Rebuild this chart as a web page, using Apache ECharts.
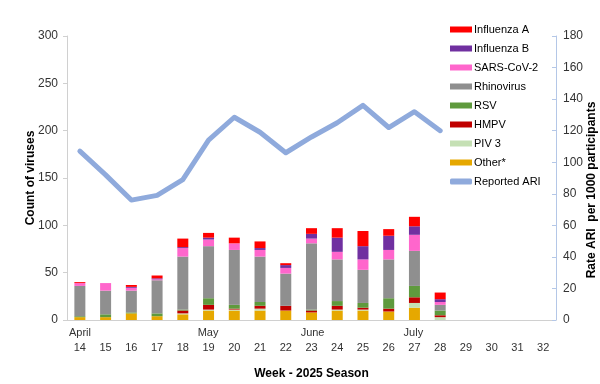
<!DOCTYPE html>
<html><head><meta charset="utf-8">
<script src="https://cdn.jsdelivr.net/npm/echarts@6/dist/echarts.min.js"></script>
<style>html,body{margin:0;padding:0;background:#fff}#c{width:600px;height:384px}</style>
</head><body><div id="c"></div>
<script>
const weeks = ['14','15','16','17','18','19','20','21','22','23','24','25','26','27','28','29','30','31','32'];
const monthBoundaries = ['April','','','','','May','','','','June','','','','July','','','','','',''];
const other  = [3, 3, 7, 4, 6, 10, 10, 10, 10, 8, 10, 10, 9, 13, 0];
const piv3   = [0, 0, 0, 0, 1, 1, 1, 2, 0, 0, 1, 1, 0, 5, 3];
const hmpv   = [0, 0, 0, 0, 3, 5, 1, 3, 5, 2, 4, 2, 3, 6, 2];
const rsv    = [1, 3, 1, 3, 1, 7, 4, 4, 0, 1, 5, 5, 11, 12, 5];
const rhino  = [32, 25, 23, 35, 56, 55, 58, 48, 34, 70, 44, 35, 41, 37, 6];
const sars   = [3, 8, 3, 1, 9, 7, 7, 7, 6, 5, 8, 11, 10, 17, 3];
const flub   = [0, 0, 1, 1, 1, 2, 0, 2, 3, 5, 15, 14, 15, 9, 3];
const flua   = [1, 0, 2, 3, 9, 5, 6, 7, 2, 6, 10, 16, 7, 10, 7];
const ari    = [107, 92, 76, 79, 89, 114, 128.5, 119, 106, 116, 125, 136, 122, 132, 120];
const leftTicks = [0, 50, 100, 150, 200, 250, 300];
const rightTicks = [0, 20, 40, 60, 80, 100, 120, 140, 160, 180];

const font = 'Liberation Sans, Arial, sans-serif';
const barSeries = [
  ['Other*', other, '#e6a800'],
  ['PIV 3', piv3, '#c5e0b4'],
  ['HMPV', hmpv, '#c00000'],
  ['RSV', rsv, '#5f9a3d'],
  ['Rhinovirus', rhino, '#8f8f8f'],
  ['SARS-CoV-2', sars, '#ff66cc'],
  ['Influenza B', flub, '#7030a0'],
  ['Influenza A', flua, '#ff0000']
].map(([name, data, color]) => ({
  name, type: 'bar', stack: 'v', data, barWidth: 11,
  itemStyle: { color }, xAxisIndex: 0, yAxisIndex: 0
}));

const chart = echarts.init(document.getElementById('c'), null, { renderer: 'canvas' });
chart.setOption({
  animation: false,
  textStyle: { fontFamily: font },
  grid: { left: 67, right: 44, top: 36, bottom: 64, containLabel: false, outerBoundsMode: 'none' },
  legend: {
    orient: 'vertical', left: 445, top: 18, itemWidth: 22, itemHeight: 6, itemGap: 6,
    textStyle: { fontSize: 11, color: '#000', fontFamily: font, lineHeight: 13, padding: [0,0,0,-3] },
    data: [
      { name: 'Influenza A', icon: 'rect' }, { name: 'Influenza B', icon: 'rect' },
      { name: 'SARS-CoV-2', icon: 'rect' }, { name: 'Rhinovirus', icon: 'rect' },
      { name: 'RSV', icon: 'rect' }, { name: 'HMPV', icon: 'rect' },
      { name: 'PIV 3', icon: 'rect' }, { name: 'Other*', icon: 'rect' },
      { name: 'Reported ARI', icon: 'roundRect' }
    ]
  },
  xAxis: [
    {
      type: 'category', data: weeks, position: 'bottom',
      name: 'Week - 2025 Season', nameLocation: 'middle', nameGap: 48, nameMoveOverlap: false,
      nameTextStyle: { fontSize: 12, fontWeight: 'bold', color: '#000' },
      axisLine: { lineStyle: { color: '#d0d0d0', width: 1 } },
      axisTick: { length: 33, lineStyle: { color: '#d0d0d0' } },
      axisLabel: { fontSize: 11, color: '#333', margin: 22 }
    },
    {
      type: 'category', data: monthBoundaries, position: 'bottom', boundaryGap: false,
      axisLine: { show: false }, axisTick: { show: false },
      axisLabel: { fontSize: 11, color: '#333', margin: 7, align: 'left', padding: [0,0,0,2], interval: 0 }
    }
  ],
  yAxis: [
    {
      type: 'value', min: 0, max: 300, interval: 50,
      name: 'Count of viruses', nameLocation: 'middle', nameGap: 30, nameRotate: 90, nameMoveOverlap: false,
      nameTextStyle: { fontSize: 12, fontWeight: 'bold', color: '#000' },
      axisLine: { show: true, lineStyle: { color: '#d0d0d0' } },
      axisTick: { show: true, length: 4, lineStyle: { color: '#d0d0d0' } },
      axisLabel: { fontSize: 12, color: '#333', margin: 9, formatter: v => leftTicks.includes(v) ? String(v) : '' },
      splitLine: { show: false }
    },
    {
      type: 'value', min: 0, max: 180, interval: 20, position: 'right',
      name: 'Rate ARI  per 1000 participants', nameLocation: 'middle', nameGap: 30, nameRotate: 90, nameMoveOverlap: false,
      nameTextStyle: { fontSize: 12, fontWeight: 'bold', color: '#000', padding: [0, 24, 0, 0] },
      axisLine: { show: true, lineStyle: { color: '#b4c7e7' } },
      axisTick: { show: true, inside: true, length: 4, lineStyle: { color: '#b4c7e7' } },
      axisLabel: { fontSize: 12, color: '#333', margin: 7, formatter: v => rightTicks.includes(v) ? String(v) : '' },
      splitLine: { show: false }
    }
  ],
  series: [
    ...barSeries,
    {
      name: 'Reported ARI', type: 'line', data: ari, yAxisIndex: 1, xAxisIndex: 0,
      symbol: 'none', z: 5,
      lineStyle: { color: '#8faadc', width: 5, cap: 'round', join: 'round' },
      itemStyle: { color: '#8faadc' }
    }
  ]
});
</script></body></html>
